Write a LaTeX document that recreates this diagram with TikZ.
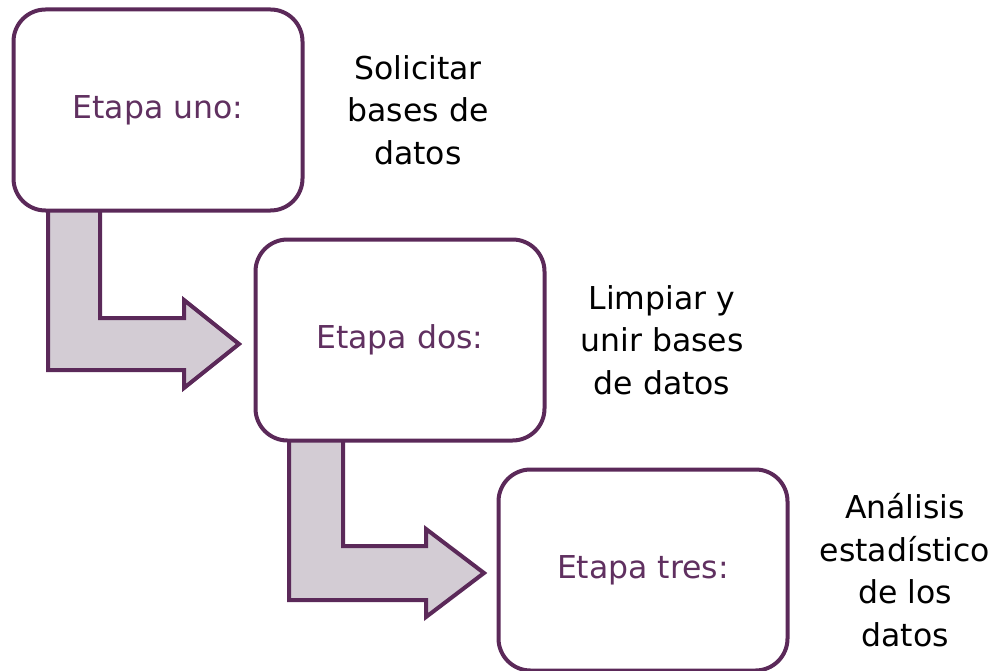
\documentclass[tikz,border=0pt]{standalone}
\usepackage{fontspec}
\setmainfont{DejaVu Sans}
\definecolor{plum}{RGB}{91,41,89}
\definecolor{plumtext}{RGB}{96,48,96}
\definecolor{lilac}{RGB}{211,204,212}
\tikzset{
  stagebox/.style={draw=plum, line width=4pt, fill=white, rounded corners=32pt,
    minimum width=289pt, minimum height=201pt, inner sep=0pt,
    text=plumtext, font=\fontsize{31.5}{42.5}\selectfont},
  bentarrow/.style={draw=plum, line width=4pt, fill=lilac, line join=miter},
  note/.style={align=center, text=black, font=\fontsize{31.5}{42.5}\selectfont, inner sep=0pt}
}
\begin{document}
\begin{tikzpicture}[x=1pt,y=-1pt]
\useasboundingbox (0,0) rectangle (995,671);
% bent arrows
\draw[bentarrow] (48,205) -- (100,205) -- (100,318) -- (184,318) -- (184,300) -- (239,344)
  -- (184,388) -- (184,370) -- (48,370) -- cycle;
\draw[bentarrow] (289,435) -- (343,435) -- (343,546) -- (426,546) -- (426,529) -- (484,573)
  -- (426,617) -- (426,600) -- (289,600) -- cycle;
% stage boxes
\node[stagebox] (s1) at (158,110) {Etapa uno:};
\node[stagebox] (s2) at (400,340) {Etapa dos:};
\node[stagebox] (s3) at (643,570) {Etapa tres:};
% descriptions
\node[note] (n1) at (418,110) {Solicitar\\bases de\\datos};
\node[note] (n2) at (662,340) {Limpiar y\\unir bases\\de datos};
\node[note] (n3) at (905,570) {Análisis\\estadístico\\de los\\datos};
\end{tikzpicture}
\end{document}
